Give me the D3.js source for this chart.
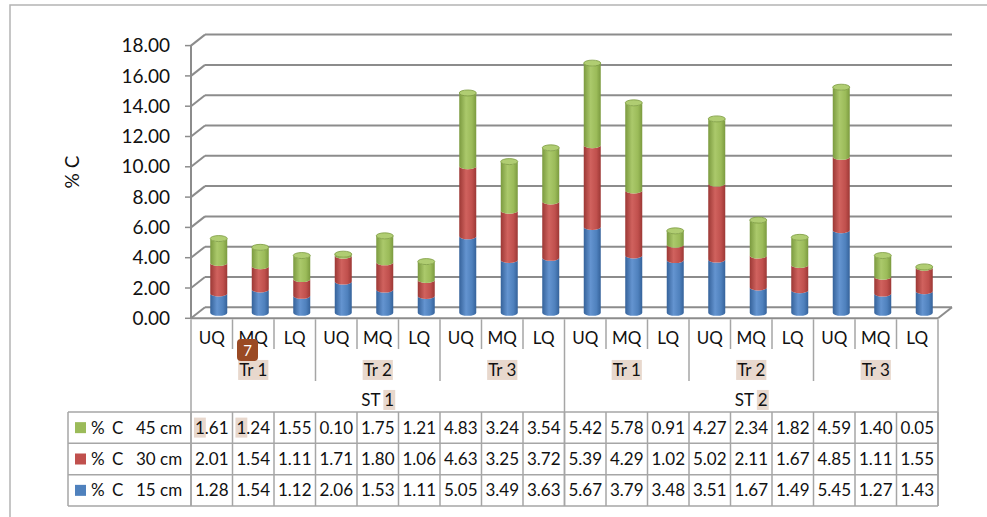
<!DOCTYPE html>
<html>
<head>
<meta charset="utf-8">
<script src="https://cdn.jsdelivr.net/npm/d3@7"></script>
<style>
  body { margin: 0; background: #fff; }
  svg { display: block; font-family: Lato, "Open Sans", sans-serif; }
</style>
</head>
<body>
<svg id="chart" width="987" height="517"></svg>
<script>
// quarters, transects and sites along the category axis
const quarters = ['UQ','MQ','LQ','UQ','MQ','LQ','UQ','MQ','LQ','UQ','MQ','LQ','UQ','MQ','LQ','UQ','MQ','LQ'];
const transects = ['Tr 1','Tr 2','Tr 3','Tr 1','Tr 2','Tr 3'];
const sites = ['ST 1','ST 2'];

// series, bottom to top of each stack
const seriesNames = ['% C 15 cm','% C 30 cm','% C 45 cm'];
const c15 = [1.28,1.54,1.12,2.06,1.53,1.11,5.05,3.49,3.63,5.67,3.79,3.48,3.51,1.67,1.49,5.45,1.27,1.43];
const c30 = [2.01,1.54,1.11,1.71,1.80,1.06,4.63,3.25,3.72,5.39,4.29,1.02,5.02,2.11,1.67,4.85,1.11,1.55];
const c45 = [1.61,1.24,1.55,0.10,1.75,1.21,4.83,3.24,3.54,5.42,5.78,0.91,4.27,2.34,1.82,4.59,1.40,0.05];

const yTicks = [0,2,4,6,8,10,12,14,16,18];

const svg = d3.select('#chart');
const grid = '#8c8c8c';
const tableLine = '#a6a6a6';

// depth of the 3d box
const dx = 14, dy = -11;
const left = 191, right = 938;

let xScale = d3.scaleBand()
    .domain(d3.range(quarters.length))
    .range([left, right]);

let yScale = d3.scaleLinear()
    .domain([0, 18])
    .range([318.3, 45.6]);

const colors = [
    {base:'#4f81bd', dark:'#35629a', light:'#6494d0', top:'#6a98d2'},
    {base:'#c0504d', dark:'#9c3835', light:'#d0625e', top:'#d46e6a'},
    {base:'#9bbb59', dark:'#7b9a3f', light:'#abc96b', top:'#b0cd72'}
];

// gradients for cylinders
let defs = svg.append('defs');
colors.forEach((c, i) => {
    let g = defs.append('linearGradient').attr('id', 'cyl' + i)
        .attr('x1', '0%').attr('x2', '100%').attr('y1', '0%').attr('y2', '0%');
    g.append('stop').attr('offset', '0%').attr('stop-color', c.dark);
    g.append('stop').attr('offset', '40%').attr('stop-color', c.light);
    g.append('stop').attr('offset', '75%').attr('stop-color', c.base);
    g.append('stop').attr('offset', '100%').attr('stop-color', c.dark);
});

// outer chart border (only left and top visible)
svg.append('rect')
    .attr('x', 10).attr('y', 5)
    .attr('width', 1100).attr('height', 600)
    .attr('fill', 'none').attr('stroke', '#b4b4b4').attr('stroke-width', 1.5);

// back wall gridlines and side wall diagonals
let gridG = svg.append('g');
yTicks.forEach(t => {
    let y = yScale(t);
    gridG.append('line')
        .attr('x1', left + dx).attr('x2', right + dx)
        .attr('y1', y + dy).attr('y2', y + dy)
        .attr('stroke', grid).attr('stroke-width', 2);
    gridG.append('line')
        .attr('x1', left).attr('x2', left + dx)
        .attr('y1', y).attr('y2', y + dy)
        .attr('stroke', grid).attr('stroke-width', 2);
    gridG.append('line')
        .attr('x1', left - 6).attr('x2', left)
        .attr('y1', y).attr('y2', y)
        .attr('stroke', grid).attr('stroke-width', 1.5);
});
// left axis line
gridG.append('line')
    .attr('x1', left).attr('x2', left)
    .attr('y1', yScale(18)).attr('y2', yScale(0))
    .attr('stroke', grid).attr('stroke-width', 2);
// floor front edge and right side
gridG.append('line')
    .attr('x1', left).attr('x2', right)
    .attr('y1', yScale(0)).attr('y2', yScale(0))
    .attr('stroke', grid).attr('stroke-width', 2);
gridG.append('line')
    .attr('x1', right).attr('x2', right + dx)
    .attr('y1', yScale(0)).attr('y2', yScale(0) + dy)
    .attr('stroke', grid).attr('stroke-width', 2);

// y tick labels
svg.append('g').selectAll('text')
    .data(yTicks)
    .enter()
    .append('text')
    .attr('x', 170)
    .attr('y', d => yScale(d))
    .attr('dy', '0.35em')
    .attr('text-anchor', 'end')
    .attr('font-size', '19px')
    .attr('fill', '#111')
    .text(d => d.toFixed(2));

// y axis title
svg.append('text')
    .attr('transform', 'translate(72,172) rotate(-90)')
    .attr('text-anchor', 'middle')
    .attr('dy', '0.35em')
    .attr('font-size', '19px')
    .attr('fill', '#111')
    .text('% C');

// stacked cylinders
const rx = 8.5, ry = 3;
let stacks = quarters.map((q, i) => {
    let vals = [c15[i], c30[i], c45[i]];
    let acc = 0;
    return vals.map((v, s) => {
        let seg = {i: i, s: s, y0: acc, y1: acc + v};
        acc += v;
        return seg;
    });
});

let barG = svg.append('g');
stacks.forEach(stack => {
    stack.forEach(seg => {
        if (seg.y1 - seg.y0 <= 0) return;
        let cx = xScale(seg.i) + xScale.bandwidth() / 2 + dx / 2;
        let yb = yScale(seg.y0) + dy / 2;
        let yt = yScale(seg.y1) + dy / 2;
        let p = `M${cx - rx},${yt} L${cx - rx},${yb} A${rx},${ry} 0 0 0 ${cx + rx},${yb} ` +
                `L${cx + rx},${yt} A${rx},${ry} 0 0 1 ${cx - rx},${yt} Z`;
        barG.append('path')
            .attr('d', p)
            .attr('fill', `url(#cyl${seg.s})`);
    });
    let topSeg = stack[stack.length - 1];
    let cx = xScale(topSeg.i) + xScale.bandwidth() / 2 + dx / 2;
    barG.append('ellipse')
        .attr('cx', cx)
        .attr('cy', yScale(topSeg.y1) + dy / 2)
        .attr('rx', rx).attr('ry', ry)
        .attr('fill', colors[topSeg.s].top)
        .attr('stroke', colors[topSeg.s].dark)
        .attr('stroke-width', 0.8);
});

// category axis lines
const floorY = yScale(0) + 1;
const tableTop = 412, tableBottom = 506;
let rowYs = [412, 443.3, 474.7, 506];
let catG = svg.append('g');
d3.range(quarters.length + 1).forEach(k => {
    let x = k < quarters.length ? xScale(k) : right;
    let yEnd = 349;
    if (k % 3 === 0) yEnd = 381;
    if (k % 9 === 0) yEnd = tableBottom;
    catG.append('line')
        .attr('x1', x).attr('x2', x)
        .attr('y1', floorY).attr('y2', yEnd)
        .attr('stroke', tableLine).attr('stroke-width', 1.5);
});

// highlight helper for annotation marks
function highlight(textSel, from, to) {
    let node = textSel.node();
    let a = node.getExtentOfChar(from);
    let b = node.getExtentOfChar(to - 1);
    let g = d3.select(node.parentNode);
    g.insert('rect', () => node)
        .attr('x', a.x - 1).attr('y', a.y + 1)
        .attr('width', b.x + b.width - a.x + 2)
        .attr('height', a.height - 1)
        .attr('fill', '#e8d8cd');
}

// quarter labels
let labG = svg.append('g').attr('font-size', '17px').attr('fill', '#111');
quarters.forEach((q, i) => {
    labG.append('text')
        .attr('x', xScale(i) + xScale.bandwidth() / 2)
        .attr('y', 338)
        .attr('dy', '0.35em')
        .attr('text-anchor', 'middle')
        .text(q);
});
transects.forEach((t, j) => {
    let tx = labG.append('text')
        .attr('x', xScale(j * 3 + 1) + xScale.bandwidth() / 2)
        .attr('y', 370)
        .attr('dy', '0.35em')
        .attr('text-anchor', 'middle')
        .text(t);
    highlight(tx, 0, t.length);
});
sites.forEach((s, j) => {
    let sx = labG.append('text')
        .attr('x', (xScale(j * 9) + (j === 1 ? right : xScale(9))) / 2)
        .attr('y', 400)
        .attr('dy', '0.35em')
        .attr('text-anchor', 'middle')
        .text(s);
    highlight(sx, s.length - 1, s.length);
});

// data table grid
let tblG = svg.append('g');
rowYs.forEach(y => {
    tblG.append('line')
        .attr('x1', 68).attr('x2', right)
        .attr('y1', y).attr('y2', y)
        .attr('stroke', tableLine).attr('stroke-width', 1.5);
});
[68].concat(d3.range(quarters.length).map(k => xScale(k))).concat([right]).forEach(x => {
    tblG.append('line')
        .attr('x1', x).attr('x2', x)
        .attr('y1', tableTop).attr('y2', tableBottom)
        .attr('stroke', tableLine).attr('stroke-width', 1.5);
});

// table rows: 45 cm, 30 cm, 15 cm from top
const tableRows = [
    {label: ['%', 'C', '45 cm'], vals: c45, color: colors[2].base},
    {label: ['%', 'C', '30 cm'], vals: c30, color: colors[1].base},
    {label: ['%', 'C', '15 cm'], vals: c15, color: colors[0].base}
];
let txtG = svg.append('g').attr('font-size', '17px').attr('fill', '#111');
tableRows.forEach((row, r) => {
    let cy = (rowYs[r] + rowYs[r + 1]) / 2;
    txtG.append('rect')
        .attr('x', 75).attr('y', cy - 5.5)
        .attr('width', 11).attr('height', 11)
        .attr('fill', row.color);
    [91, 112, 136].forEach((lx, k) => {
        txtG.append('text')
            .attr('x', lx).attr('y', cy)
            .attr('dy', '0.35em')
            .text(row.label[k]);
    });
    row.vals.forEach((v, i) => {
        let t = txtG.append('text')
            .attr('x', xScale(i) + xScale.bandwidth() / 2)
            .attr('y', cy)
            .attr('dy', '0.35em')
            .attr('text-anchor', 'middle')
            .text(v.toFixed(2));
        if (r === 0 && i < 2) highlight(t, 0, 1);
    });
});

// annotation badge (sits over the MQ label, as in the source)
let badge = svg.append('g');
badge.append('rect')
    .attr('x', 237).attr('y', 339)
    .attr('width', 21).attr('height', 22)
    .attr('rx', 4)
    .attr('fill', '#9a4a24');
badge.append('text')
    .attr('x', 247.5).attr('y', 350.5)
    .attr('dy', '0.35em')
    .attr('text-anchor', 'middle')
    .attr('font-size', '15px')
    .attr('fill', '#fff')
    .text('7');
</script>
</body>
</html>
